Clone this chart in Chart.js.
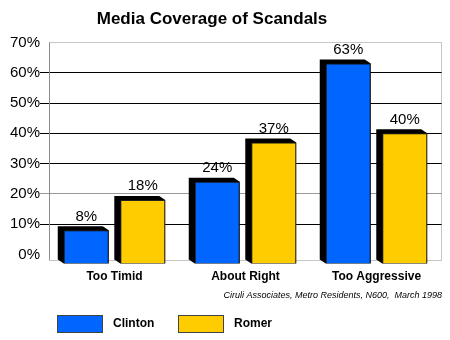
<!DOCTYPE html>
<html>
<head>
<meta charset="utf-8">
<title>Media Coverage of Scandals</title>
<script src="https://cdn.jsdelivr.net/npm/chart.js@4.4.1/dist/chart.umd.min.js"></script>
<style>
  body { margin: 0; background: #fff; }
  canvas { display: block; }
</style>
</head>
<body>
<canvas id="canvas" width="450" height="340"></canvas>
<script>
// Chart data
const categories = ["Too Timid", "About Right", "Too Aggressive"];
const seriesNames = ["Clinton", "Romer"];
const clintonValues = [8, 24, 63];
const romerValues = [18, 37, 40];
const yTicks = [0, 10, 20, 30, 40, 50, 60, 70];
const chartTitle = "Media Coverage of Scandals";
const sourceNote = "Ciruli Associates, Metro Residents, N600,  March 1998";

const FONT = "'Liberation Sans', Arial, Helvetica, sans-serif";
const BAR_FLOOR = -3; // bars hang a bit below 0 for the fake 3D floor
const DEPTH_X = 6;
const DEPTH_Y = 4;

// frame, floor and the black "depth" behind each bar
const barDepth = {
  id: "barDepth",
  beforeDatasetsDraw(chart) {
    const ctx = chart.ctx;
    const area = chart.chartArea;
    const floorY = Math.round(chart.scales.y.getPixelForValue(BAR_FLOOR) - DEPTH_Y) + 0.5;
    const top = Math.round(area.top) + 0.5;
    const left = Math.round(area.left) + 0.5;
    const right = Math.round(area.right) - 0.5;

    ctx.save();
    ctx.lineWidth = 1;
    ctx.strokeStyle = "#8c8c8c";
    ctx.setLineDash([1, 1]);
    ctx.beginPath();
    ctx.moveTo(left, top);
    ctx.lineTo(right, top);
    ctx.lineTo(right, floorY);
    ctx.lineTo(left, floorY);
    ctx.stroke();
    ctx.setLineDash([]);
    ctx.beginPath();
    ctx.moveTo(left, top);
    ctx.lineTo(left, floorY);
    ctx.stroke();

    ctx.fillStyle = "#000";
    chart.data.datasets.forEach((ds, i) => {
      chart.getDatasetMeta(i).data.forEach((bar) => {
        const { x, y, base, width } = bar.getProps(["x", "y", "base", "width"], true);
        const L = x - width / 2;
        const R = x + width / 2;
        ctx.beginPath();
        ctx.moveTo(L - DEPTH_X, y - DEPTH_Y);
        ctx.lineTo(R - DEPTH_X, y - DEPTH_Y);
        ctx.lineTo(R, y);
        ctx.lineTo(R, base);
        ctx.lineTo(L, base);
        ctx.lineTo(L - DEPTH_X, base - DEPTH_Y);
        ctx.closePath();
        ctx.fill();
      });
    });
    ctx.restore();
  },

  // value labels above the bars
  afterDatasetsDraw(chart) {
    const ctx = chart.ctx;
    ctx.save();
    ctx.font = "15px " + FONT;
    ctx.fillStyle = "#000";
    ctx.textAlign = "center";
    ctx.textBaseline = "alphabetic";
    chart.data.datasets.forEach((ds, i) => {
      chart.getDatasetMeta(i).data.forEach((bar, j) => {
        ctx.fillText(ds.data[j] + "%", bar.x, bar.y - 9.5);
      });
    });
    ctx.restore();
  },
};

// title, source line and the legend boxes under the chart
const legendX = [57, 178];
const labelsAround = {
  id: "labelsAround",
  afterDraw(chart) {
    const ctx = chart.ctx;
    ctx.save();
    ctx.fillStyle = "#000";
    ctx.textBaseline = "middle";

    ctx.font = "bold 17px " + FONT;
    ctx.textAlign = "center";
    ctx.fillText(chartTitle, 212, 19);

    ctx.font = "italic 9px " + FONT;
    ctx.textAlign = "right";
    ctx.fillText(sourceNote, 442, 295);

    ctx.font = "bold 12px " + FONT;
    ctx.textAlign = "left";
    chart.data.datasets.forEach((ds, i) => {
      const bx = legendX[i];
      ctx.fillStyle = ds.backgroundColor;
      ctx.fillRect(bx, 315, 46, 18);
      ctx.strokeStyle = "#444";
      ctx.lineWidth = 1;
      ctx.strokeRect(bx + 0.5, 315.5, 45, 17);
      ctx.fillStyle = "#000";
      ctx.fillText(ds.label, bx + 56, 324);
    });
    ctx.restore();
  },
};

const ctx = document.getElementById("canvas").getContext("2d");

new Chart(ctx, {
  type: "bar",
  data: {
    labels: categories,
    datasets: [
      {
        label: seriesNames[0],
        data: clintonValues,
        backgroundColor: "#0066ff",
        borderColor: "#222",
        borderWidth: 1,
        base: BAR_FLOOR,
      },
      {
        label: seriesNames[1],
        data: romerValues,
        backgroundColor: "#ffcc00",
        borderColor: "#222",
        borderWidth: 1,
        base: BAR_FLOOR,
      },
    ],
  },
  options: {
    responsive: false,
    animation: false,
    categoryPercentage: 0.863,
    barPercentage: 0.796,
    layout: {
      padding: { top: 42.4, left: 10, right: 8, bottom: 50 },
    },
    plugins: {
      legend: { display: false },
      title: { display: false },
      tooltip: { enabled: false },
    },
    scales: {
      x: {
        grid: { display: false, drawTicks: false },
        border: { display: false },
        ticks: {
          padding: 6,
          color: "#000",
          font: { family: FONT, size: 12, weight: "bold" },
        },
      },
      y: {
        min: BAR_FLOOR,
        max: 70,
        afterBuildTicks: (scale) => {
          scale.ticks = yTicks.map((v) => ({ value: v }));
        },
        grid: {
          tickLength: 9,
          color: (c) => {
            const v = c.tick.value;
            if (v === 0 || v === 70) return "rgba(0,0,0,0)";
            return v === 20 ? "#999999" : "#000000";
          },
        },
        border: { display: false },
        ticks: {
          padding: 0,
          color: "#000",
          font: { family: FONT, size: 15 },
          callback: (v) => v + "%",
        },
      },
    },
  },
  plugins: [barDepth, labelsAround],
});
</script>
</body>
</html>
